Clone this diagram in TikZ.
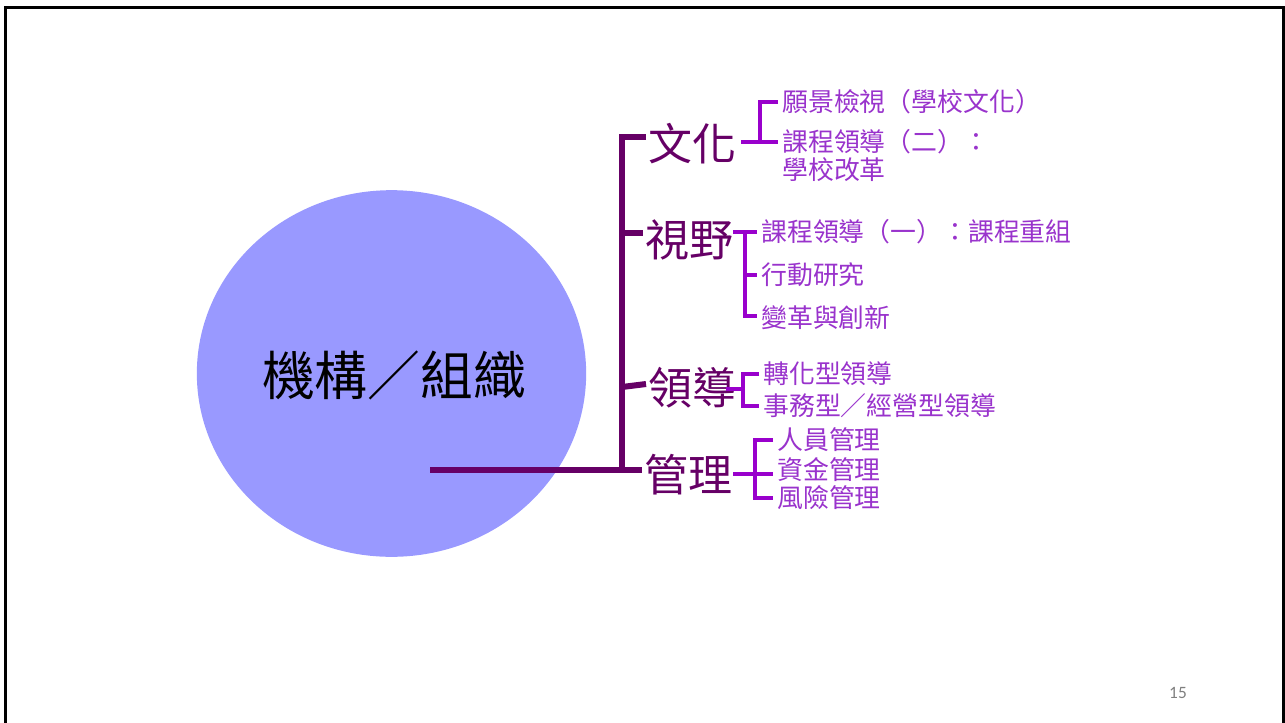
\documentclass[tikz,border=0pt]{standalone}
\usepackage{fontspec}
\usepackage{tikz}
\usetikzlibrary{shapes.geometric}
\newfontfamily\cjk{Noto Sans CJK TC}
\newfontfamily\pagefont{Carlito}
\definecolor{orgdark}{HTML}{660066}
\definecolor{orgmid}{HTML}{9900CC}
\definecolor{orgtext}{HTML}{9933CC}
\definecolor{orgfill}{HTML}{9999FF}
\definecolor{pagegray}{HTML}{7F7F7F}

\begin{document}
\begin{tikzpicture}[
		x=0.75pt, y=-0.75pt,
		trunk/.style={line width=4.5pt, color=orgdark},
		twig/.style={line width=3.2pt, color=orgmid},
		topic/.style={anchor=west, inner xsep=2pt, inner ysep=0pt, text=orgdark, font=\cjk\fontsize{33}{36}\selectfont},
		item/.style={anchor=west, inner xsep=3pt, inner ysep=0pt, text=orgtext, align=left, font=\cjk\fontsize{19.4}{21}\selectfont}
	]
	\clip (0,0) rectangle (1285,722);
	\draw[line width=2.25pt] (5.5,7.5) rectangle (1283.5,760);
	
	\node[ellipse, fill=orgfill, minimum width=292pt, minimum height=275pt, inner sep=0pt]
		(org) at (391.5,373.5) {};
	
	% topics
	\node[topic] (culture) at (646,144) {文化};
	\node[topic] (vision) at (643,240) {視野};
	\node[topic] (lead) at (646,388) {領導};
	\node[topic] (manage) at (642,475) {管理};
	
	\coordinate (root) at (430,470);
	\coordinate (spine) at (622,137);
	\draw[trunk]
		(root) -- (root -| manage.west);
	\draw[trunk]
		(culture.west |- spine) -- (spine) -- (spine |- root);
	\draw[trunk]
		(spine |- 0,233) -- (vision.west |- 0,233);
	\draw[trunk]
		(spine |- 0,387) -- (lead.west |- 0,384);
	
	\node[font=\cjk\fontsize{39.6}{44}\selectfont]
		(orgname) at (394,375) {機構／組織};
	
	% 文化
	\foreach \n/\y/\t in {c1/102/願景檢視（學校文化）, c2/155.5/課程領導（二）：\\學校改革}{
		\node[item] (\n) at (778,\y) {\t};
	}
	\coordinate (cj) at (760,142);
	\draw[twig]
		(c1.west) -| (cj) -- (c2.west |- cj);
	\draw[twig]
		(741,142) -- (cj);
	
	% 視野
	\foreach \n/\y/\t in {v1/232/課程領導（一）：課程重組, v2/275/行動研究, v3/318/變革與創新}{
		\node[item] (\n) at (757,\y) {\t};
	}
	\coordinate (vj) at (745,232);
	\draw[twig]
		(733,232) -- (v1.west);
	\draw[twig]
		(vj) |- (v3.west |- 0,316);
	\draw[twig]
		(vj |- v2.west) -- (v2.west);
	
	% 領導
	\foreach \n/\y/\t in {l1/374/轉化型領導, l2/406/事務型／經營型領導}{
		\node[item] (\n) at (759,\y) {\t};
	}
	\coordinate (lj) at (743,389);
	\draw[twig]
		(l1.west) -| (lj) |- (l2.west);
	\draw[twig]
		(726,389) -- (lj);
	
	% 管理
	\foreach \n/\y/\t in {m1/440/人員管理, m2/470/資金管理, m3/498/風險管理}{
		\node[item] (\n) at (773,\y) {\t};
	}
	\coordinate (mj) at (755,474);
	\draw[twig]
		(m1.west) -| (mj |- m3.west) -- (m3.west);
	\draw[twig]
		(733,474) -- (m2.west |- mj);
	
	\node[text=pagegray, font=\pagefont\fontsize{13}{15}\selectfont]
		(pg) at (1178,693) {15};
\end{tikzpicture}
\end{document}
